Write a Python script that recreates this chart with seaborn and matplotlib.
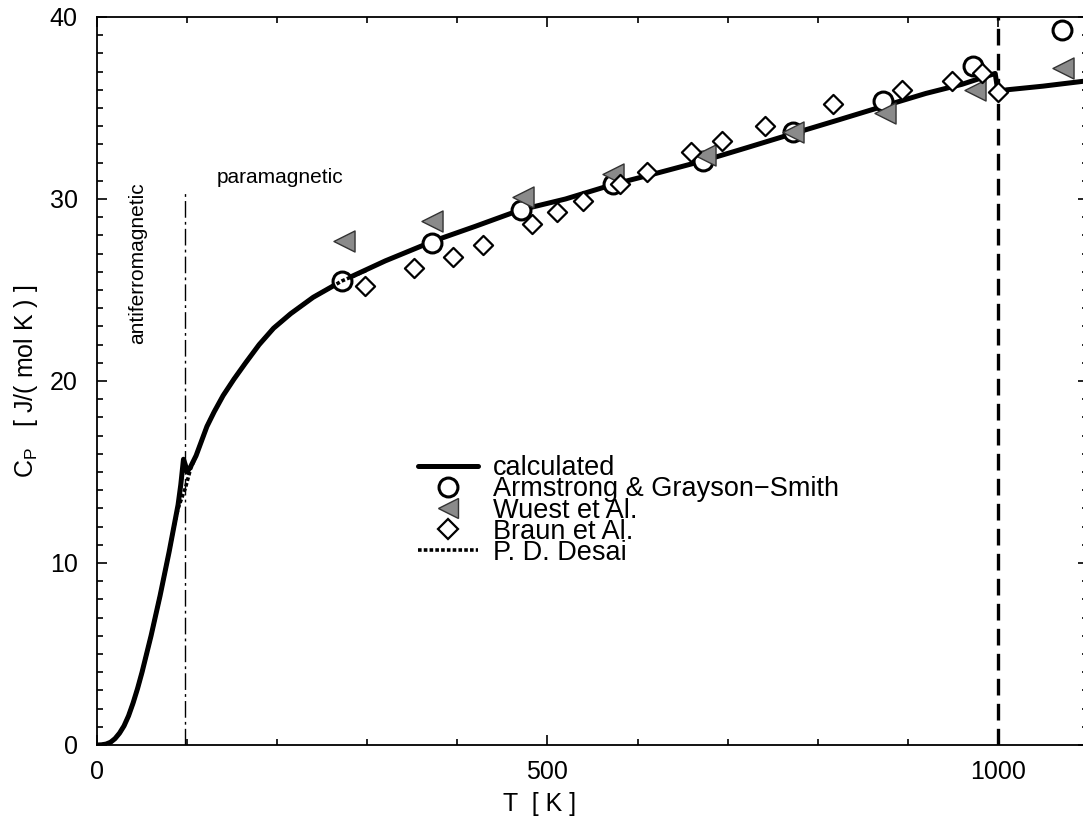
import numpy as np
import pandas as pd
import matplotlib
matplotlib.use("Agg")
import matplotlib.pyplot as plt
import seaborn as sns
from matplotlib.lines import Line2D
from matplotlib.ticker import MultipleLocator

# ---------------- data ----------------
T_calc = [0, 5, 10, 15, 20, 25, 30, 35, 40, 45, 50, 55, 60, 65, 70, 75, 80, 85, 90,
          93, 96, 98, 100, 104, 110, 116, 122, 130, 140, 152, 165, 180, 196, 215,
          240, 272, 320, 374, 420, 470, 520, 573, 620, 673, 720, 773, 820, 873,
          920, 960, 997, 1000, 1010, 1050, 1100]
Cp_calc = [0.0, 0.01, 0.05, 0.15, 0.35, 0.65, 1.05, 1.6, 2.3, 3.1, 4.0, 5.0, 6.0,
           7.1, 8.2, 9.4, 10.6, 11.9, 13.2, 14.3, 15.7, 15.4, 15.0, 15.3, 15.9,
           16.7, 17.5, 18.3, 19.2, 20.1, 21.0, 22.0, 22.9, 23.7, 24.6, 25.5, 26.6,
           27.7, 28.5, 29.4, 30.0, 30.8, 31.4, 32.1, 32.8, 33.6, 34.3, 35.1, 35.8,
           36.3, 36.9, 35.9, 36.0, 36.2, 36.5]

T_desai = [0, 5, 10, 15, 20, 25, 30, 35, 40, 45, 50, 55, 60, 65, 70, 75, 80, 85, 90,
           95, 98, 104, 110, 116, 122, 130, 140, 152, 165, 180, 196, 215, 240, 272,
           300]
Cp_desai = [0.0, 0.01, 0.05, 0.15, 0.35, 0.65, 1.05, 1.6, 2.3, 3.1, 4.0, 5.0, 6.0,
            7.1, 8.2, 9.4, 10.6, 11.9, 13.0, 13.7, 14.1, 15.2, 15.9, 16.7, 17.5,
            18.3, 19.2, 20.1, 21.0, 22.0, 22.9, 23.7, 24.6, 25.5, 26.1]

T_armstrong = [272, 372, 471, 573, 673, 773, 873, 972, 1071]
Cp_armstrong = [25.5, 27.6, 29.4, 30.8, 32.1, 33.7, 35.4, 37.3, 39.3]

T_wuest = [274, 372, 473, 573, 675, 773, 875, 975, 1072]
Cp_wuest = [27.7, 28.8, 30.1, 31.4, 32.4, 33.7, 34.7, 36.0, 37.2]

T_braun = [298, 352, 395, 429, 483, 511, 540, 581, 611, 659, 694, 742, 817, 893,
           949, 982, 1000]
Cp_braun = [25.2, 26.2, 26.8, 27.5, 28.6, 29.3, 29.9, 30.8, 31.5, 32.6, 33.2, 34.0,
            35.2, 36.0, 36.5, 36.9, 35.9]

T_NEEL = 98          # antiferromagnetic / paramagnetic boundary
NEEL_TOP = 30.5
T_CUT = 1000

x_ticks = [0, 500, 1000]
y_ticks = [0, 10, 20, 30, 40]

labels = ["calculated", "Armstrong & Grayson\u2212Smith", "Wuest et Al.",
          "Braun et Al.", "P. D. Desai"]

# ---------------- style ----------------
sns.set_theme(style="ticks")
plt.rcParams["font.family"] = ["Liberation Sans", "DejaVu Sans"]
plt.rcParams["mathtext.fontset"] = "custom"
plt.rcParams["mathtext.rm"] = "Liberation Sans"
plt.rcParams["mathtext.it"] = "Liberation Sans:italic"
plt.rcParams["axes.linewidth"] = 1.3
for key in ["text.color", "axes.labelcolor", "xtick.color", "ytick.color",
            "axes.edgecolor"]:
    plt.rcParams[key] = "black"

fig = plt.figure(figsize=(10.83, 8.26), dpi=100)
ax = fig.add_axes([97 / 1083, 81 / 826, 991 / 1083, 728 / 826])
ax.set_facecolor("white")

# calculated curve
sns.lineplot(x=T_calc, y=Cp_calc, sort=False, estimator=None, color="black",
             lw=3.6, ax=ax, zorder=2)
# Desai curve (dotted)
sns.lineplot(x=T_desai, y=Cp_desai, sort=False, estimator=None, color="black",
             lw=2.6, ax=ax, zorder=6)
ax.lines[-1].set_linestyle((0, (1.0, 0.6)))

# experimental points
sns.scatterplot(x=T_armstrong, y=Cp_armstrong, marker="o", s=185, color="white",
                edgecolor="black", linewidth=2.2, ax=ax, zorder=3)
sns.scatterplot(x=T_wuest, y=Cp_wuest, marker="<", s=230, color="#8a8a8a",
                edgecolor="#333333", linewidth=1.0, ax=ax, zorder=4)
sns.scatterplot(x=T_braun, y=Cp_braun, marker="D", s=95, color="white",
                edgecolor="black", linewidth=1.6, ax=ax, zorder=5)

# vertical reference lines
ax.vlines(T_NEEL, 0, NEEL_TOP, colors="black", lw=1.0,
          linestyles=[(0, (12, 3, 2, 3))], zorder=1)
ax.axvline(T_CUT, color="black", lw=2.4, ls=(0, (5, 2.5)), zorder=1)

# annotations
ax.text(45.5, 26.5, "antiferromagnetic", rotation=90, ha="center", va="center",
        fontsize=15)
ax.text(133, 31.2, "paramagnetic", ha="left", va="center", fontsize=15)

# axes
ax.set_xlim(0, 1100)
ax.set_ylim(0, 40)
ax.set_xticks(x_ticks)
ax.set_yticks(y_ticks)
ax.xaxis.set_minor_locator(MultipleLocator(100))
ax.yaxis.set_minor_locator(MultipleLocator(1))
ax.tick_params(axis="both", which="both", direction="in", top=True, right=True,
               color="black", width=1.2)
ax.tick_params(axis="both", which="major", length=7, labelsize=18)
ax.tick_params(axis="both", which="minor", length=4)
ax.tick_params(axis="y", which="major", pad=14)
ax.tick_params(axis="x", which="major", pad=11)
for sp in ax.spines.values():
    sp.set_visible(True)
    sp.set_color("black")

ax.set_xlabel("T  [ K ]", fontsize=18)
ax.set_ylabel("C$_\\mathrm{P}$   [ J/( mol K ) ]", fontsize=18)
ax.xaxis.set_label_coords(0.447, -0.064)
ax.yaxis.set_label_coords(-0.058, 0.5)

# legend
handles = [
    Line2D([], [], color="black", lw=3.6),
    Line2D([], [], ls="none", marker="o", ms=13.6, mfc="white", mec="black", mew=2.2),
    Line2D([], [], ls="none", marker="<", ms=15, mfc="#8a8a8a", mec="#333333", mew=1.0),
    Line2D([], [], ls="none", marker="D", ms=9.7, mfc="white", mec="black", mew=1.6),
    Line2D([], [], color="black", lw=2.6, ls=(0, (1.0, 0.6))),
]
leg = ax.legend(handles, labels, loc="upper left", bbox_to_anchor=(0.324, 0.398),
                frameon=False, fontsize=19.5, handlelength=2.2, handletextpad=0.55,
                labelspacing=-0.18, borderpad=0, borderaxespad=0)

fig.savefig("out.png", dpi=100, facecolor="white")
